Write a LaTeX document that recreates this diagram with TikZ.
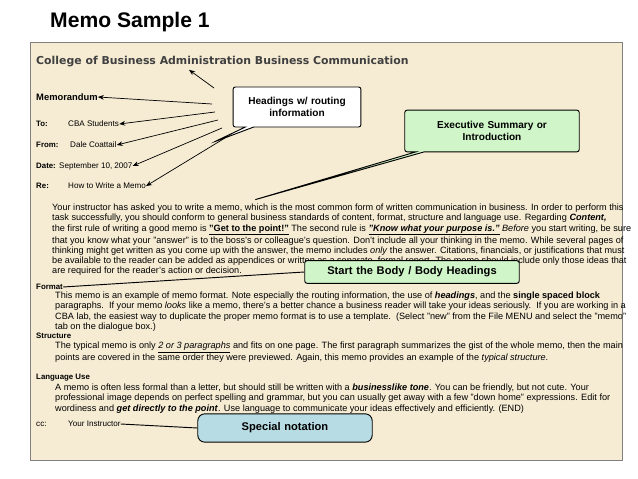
\documentclass[tikz,border=0pt]{standalone}
\usepackage{fontspec}
\setmainfont{Liberation Sans}
\newfontfamily\headfont{DejaVu Sans}
\usetikzlibrary{shapes.callouts,arrows.meta}
\definecolor{paper}{HTML}{F6ECD4}
\definecolor{tipgreen}{HTML}{CFF5C8}
\definecolor{tipblue}{HTML}{B8DCE4}
\tikzset{
    body/.style={anchor=north west,align=left,inner sep=0pt,font=\fontsize{7.8}{8.6}\selectfont},
    field/.style={anchor=west,inner sep=0pt,font=\fontsize{6.7}{8}\selectfont\bfseries},
    value/.style={anchor=west,inner sep=0pt,font=\fontsize{6.9}{8}\selectfont},
    tip/.style={draw,thick,font=\fontsize{8.6}{10.5}\selectfont\bfseries,align=center,rounded corners=2pt},
    pointer/.style={-{Stealth[length=5pt,width=4pt]},semithick},
  }
\begin{document}
\begin{tikzpicture}[x=0.03cm,y=-0.03cm]
  \useasboundingbox (0,0) rectangle (638,479);
  %titre
  \node[anchor=west,inner sep=0pt,font=\fontsize{18}{20}\selectfont\bfseries] (title) at (50,22) {Memo Sample 1};
  \draw[gray,thick,fill=paper] (30,42) rectangle (622,460);
  %en-tete
  \node[anchor=west,inner sep=0pt,text=black!75,font=\headfont\fontsize{9.3}{11}\selectfont\bfseries] (college) at (36,62) {College of Business Administration Business Communication};
  \node[field,font=\fontsize{8}{9}\selectfont\bfseries] (memo) at (36,97) {Memorandum};
  \node[field] (to) at (36,124) {To:};
  \node[value] (tov) at (68,124) {CBA Students};
  \node[field] (from) at (36,145) {From:};
  \node[value] (fromv) at (70,145) {Dale Coattail};
  \node[field] (date) at (36,166) {Date:};
  \node[value] (datev) at (59,166) {September 10, 2007};
  \node[field] (re) at (36,186) {Re:};
  \node[value] (rev) at (68,186) {How to Write a Memo};
  %corps
  \node[body] (intro) at (52,204) {Your instructor has asked you to write a memo, which is the most common form of written communication in business. In order to perform this\\
task successfully, you should conform to general business standards of content, format, structure and language use. Regarding \textbf{\textit{Content,}}\\
the first rule of writing a good memo is \underline{\textbf{"Get to the point!"}} The second rule is \underline{\textbf{\textit{"Know what your purpose is."}}} \textit{Before} you start writing, be sure\\
that you know what your "answer" is to the boss's or colleague's question. Don't include all your thinking in the memo. While several pages of\\
thinking might get written as you come up with the answer, the memo includes \textit{only} the answer. Citations, financials, or justifications that must\\
be available to the reader can be added as appendices or written as a separate, formal report. The memo should include only those ideas that\\
are required for the reader's action or decision.};
  \node[field] (format) at (36,287) {Format};
  \node[body] (formatp) at (55,292) {This memo is an example of memo format. Note especially the routing information, the use of \textbf{\textit{headings}}, and the \textbf{single spaced block}\\
paragraphs.\ \ If your memo \textit{looks} like a memo, there's a better chance a business reader will take your ideas seriously.\ \ If you are working in a\\
CBA lab, the easiest way to duplicate the proper memo format is to use a template.\ \ (Select "new" from the File MENU and select the "memo"\\
tab on the dialogue box.)};
  \node[field] (structure) at (36,336) {Structure};
  \node[body] (structurep) at (55,342) {The typical memo is only \underline{\textit{2 or 3 paragraphs}} and fits on one page. The first paragraph summarizes the gist of the whole memo, then the main\\
points are covered in the same order they were previewed. Again, this memo provides an example of the \textit{typical structure}.};
  \node[field] (language) at (36,378) {Language Use};
  \node[body] (languagep) at (55,384) {A memo is often less formal than a letter, but should still be written with a \textbf{\textit{businesslike tone}}. You can be friendly, but not cute. Your\\
professional image depends on perfect spelling and grammar, but you can usually get away with a few "down home" expressions. Edit for\\
wordiness and \textbf{\textit{get directly to the point}}. Use language to communicate your ideas effectively and efficiently. (END)};
  \node[value] (cc) at (36,424) {cc:};
  \node[value] (ccv) at (68,424) {Your Instructor};
  %bulles
  \node[tip,rectangle callout,fill=white,text width=3.6cm,minimum height=1.2cm,
        callout absolute pointer={(214,142)}] (headings) at (297,107) {Headings w/ routing\\information};
  \draw[pointer] (214,88) -- ([xshift=-1cm,yshift=-2pt]college.south);
  \foreach \t/\x/\y in {memo/212/104,tov/215/112,fromv/218/120,datev/222/128,rev/225/138}
    \draw[pointer] (\x,\y) -- (\t.east);
  \node[tip,rectangle callout,fill=tipgreen,text width=5cm,minimum height=1.25cm,
        callout absolute pointer={(254,200)}] (summary) at (492,131) {Executive Summary or\\Introduction};
  \node[tip,fill=tipgreen,text width=6.2cm,minimum height=0.68cm,font=\fontsize{9.5}{11}\selectfont\bfseries] (bodyhead) at (412,272) {Start the Body / Body Headings};
  \draw[thick] (format.east) -- (bodyhead.west);
  \node[tip,fill=tipblue,rounded corners=6pt,text width=5cm,minimum height=0.85cm,font=\fontsize{9.5}{11}\selectfont\bfseries] (special) at (285,428) {Special notation};
  \draw[thick] (ccv.east) -- (special.west);
\end{tikzpicture}
\end{document}
